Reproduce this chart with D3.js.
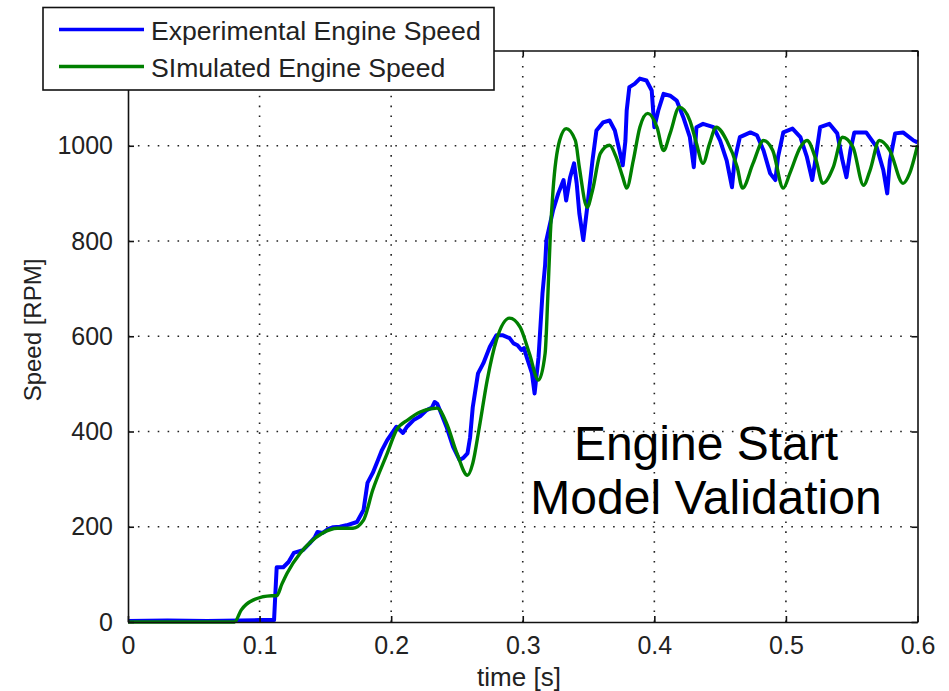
<!DOCTYPE html>
<html>
<head>
<meta charset="utf-8">
<script src="https://cdn.jsdelivr.net/npm/d3@7"></script>
<style>
  html, body { margin: 0; padding: 0; background: #fff; }
  svg { display: block; font-family: Arial, "Liberation Sans", sans-serif; }
</style>
</head>
<body>
<svg id="chart" width="949" height="691"></svg>
<script>
// Measured engine speed during cranking/start (time [s], speed [RPM])
const expTime = [0, 0.03, 0.06, 0.085, 0.1, 0.111, 0.112, 0.113, 0.118, 0.122, 0.126, 0.133, 0.138, 0.142, 0.144, 0.148, 0.152, 0.156, 0.161, 0.166, 0.174, 0.179, 0.182, 0.186, 0.19, 0.193, 0.197, 0.204, 0.209, 0.212, 0.217, 0.222, 0.227, 0.231, 0.233, 0.235, 0.237, 0.242, 0.247, 0.252, 0.255, 0.258, 0.26, 0.262, 0.266, 0.27, 0.275, 0.28, 0.285, 0.29, 0.293, 0.296, 0.299, 0.301, 0.303, 0.307, 0.309, 0.312, 0.315, 0.317, 0.318, 0.323, 0.327, 0.331, 0.333, 0.336, 0.339, 0.341, 0.343, 0.346, 0.349, 0.353, 0.356, 0.361, 0.366, 0.37, 0.374, 0.376, 0.378, 0.379, 0.381, 0.385, 0.389, 0.394, 0.398, 0.4, 0.403, 0.407, 0.412, 0.417, 0.422, 0.427, 0.43, 0.432, 0.437, 0.445, 0.45, 0.455, 0.459, 0.461, 0.465, 0.473, 0.478, 0.483, 0.488, 0.492, 0.494, 0.498, 0.505, 0.511, 0.516, 0.52, 0.522, 0.526, 0.533, 0.539, 0.543, 0.546, 0.549, 0.552, 0.561, 0.569, 0.574, 0.577, 0.579, 0.583, 0.589, 0.597, 0.6];
const expSpeed = [2, 3, 2, 3, 4, 4, 60, 115, 115, 126, 145, 151, 165, 178, 189, 187, 195, 199, 200, 203, 210, 235, 292, 313, 340, 361, 382, 410, 397, 410, 424, 432, 445, 450, 462, 458, 445, 410, 368, 340, 345, 354, 388, 451, 522, 543, 578, 602, 602, 596, 585, 581, 571, 575, 556, 522, 480, 556, 690, 750, 802, 864, 900, 928, 885, 934, 963, 921, 858, 802, 871, 969, 1032, 1049, 1053, 1032, 984, 959, 1010, 1074, 1123, 1130, 1141, 1137, 1116, 1039, 1074, 1109, 1105, 1095, 1060, 1018, 955, 1039, 1046, 1039, 1011, 969, 913, 969, 1018, 1028, 1022, 990, 942, 928, 976, 1028, 1036, 1018, 976, 928, 963, 1039, 1046, 1026, 969, 934, 990, 1028, 1028, 997, 949, 900, 969, 1026, 1028, 1011, 1007];

// Simulated engine speed from the start model
const simTime = [0, 0.081, 0.086, 0.095, 0.109, 0.113, 0.117, 0.121, 0.131, 0.138, 0.148, 0.159, 0.171, 0.179, 0.186, 0.197, 0.204, 0.213, 0.222, 0.235, 0.242, 0.25, 0.258, 0.262, 0.267, 0.273, 0.28, 0.29, 0.298, 0.305, 0.312, 0.317, 0.319, 0.321, 0.323, 0.328, 0.333, 0.34, 0.343, 0.349, 0.353, 0.359, 0.366, 0.371, 0.376, 0.379, 0.384, 0.389, 0.395, 0.402, 0.407, 0.412, 0.419, 0.427, 0.432, 0.437, 0.442, 0.447, 0.455, 0.463, 0.467, 0.475, 0.483, 0.49, 0.498, 0.503, 0.511, 0.516, 0.523, 0.528, 0.536, 0.543, 0.551, 0.559, 0.564, 0.571, 0.579, 0.589, 0.594, 0.6];
const simSpeed = [0, 0, 25, 46, 55, 55, 80, 103, 145, 166, 187, 197, 197, 214, 277, 354, 403, 425, 441, 449, 418, 354, 308, 333, 409, 508, 592, 638, 619, 564, 508, 564, 680, 816, 906, 1011, 1036, 1011, 955, 871, 906, 984, 1001, 976, 934, 911, 969, 1039, 1068, 1039, 990, 1026, 1081, 1053, 1005, 963, 1005, 1039, 1011, 955, 911, 963, 1011, 990, 911, 942, 997, 1011, 969, 921, 955, 1018, 997, 917, 949, 1011, 990, 921, 942, 1001];

// Axis ticks
const xTicks = [0, 0.1, 0.2, 0.3, 0.4, 0.5, 0.6];
const xTickLabels = ["0", "0.1", "0.2", "0.3", "0.4", "0.5", "0.6"];
const yTicks = [0, 200, 400, 600, 800, 1000, 1200];
const yTickLabels = ["0", "200", "400", "600", "800", "1000", "1200"];

const seriesNames = ["Experimental Engine Speed", "SImulated Engine Speed"];
const seriesColors = ["#0000ff", "#008000"];

const svg = d3.select("#chart");
const plot = { left: 128, right: 917.5, top: 50.5, bottom: 622 };

const x = d3.scaleLinear().domain([0, 0.6]).range([plot.left, plot.right]);
const y = d3.scaleLinear().domain([0, 1200]).range([plot.bottom, plot.top]);

// dotted grid
const grid = svg.append("g").attr("stroke", "#222").attr("stroke-width", 1.6)
  .attr("stroke-dasharray", "1.6,8.3");
grid.selectAll("line.gx").data(xTicks.slice(1, -1)).join("line")
  .attr("x1", d => x(d)).attr("x2", d => x(d))
  .attr("y1", plot.bottom).attr("y2", plot.top);
grid.selectAll("line.gy").data(yTicks.slice(1, -1)).join("line")
  .attr("y1", d => y(d)).attr("y2", d => y(d))
  .attr("x1", plot.left).attr("x2", plot.right);

// data lines
const pts = (ts, vs) => ts.map((t, i) => [t, vs[i]]);
const lineLinear = d3.line().x(d => x(d[0])).y(d => y(d[1]));
const lineSmooth = d3.line().x(d => x(d[0])).y(d => y(d[1])).curve(d3.curveMonotoneX);

svg.append("path").datum(pts(expTime, expSpeed))
  .attr("d", lineLinear).attr("fill", "none")
  .attr("stroke", seriesColors[0]).attr("stroke-width", 4)
  .attr("stroke-linejoin", "round");
svg.append("path").datum(pts(simTime, simSpeed))
  .attr("d", lineSmooth).attr("fill", "none")
  .attr("stroke", seriesColors[1]).attr("stroke-width", 3.4)
  .attr("stroke-linejoin", "round");

// axes frame with inward ticks on all four sides
const tickLen = 6;
const axisBottom = d3.axisBottom(x).tickValues(xTicks).tickSizeInner(-tickLen).tickSizeOuter(0)
  .tickFormat((d, i) => xTickLabels[i]).tickPadding(14);
const axisLeft = d3.axisLeft(y).tickValues(yTicks).tickSizeInner(-tickLen).tickSizeOuter(0)
  .tickFormat((d, i) => yTickLabels[i]).tickPadding(15);
const axisTop = d3.axisTop(x).tickValues(xTicks).tickSizeInner(-tickLen).tickSizeOuter(0).tickFormat("");
const axisRight = d3.axisRight(y).tickValues(yTicks).tickSizeInner(-tickLen).tickSizeOuter(0).tickFormat("");

function styleAxis(g) {
  g.select(".domain").attr("stroke", "#111").attr("stroke-width", 1.6);
  g.selectAll(".tick line").attr("stroke", "#111").attr("stroke-width", 1.6);
  g.selectAll(".tick text").attr("fill", "#222").attr("font-size", 25)
    .attr("font-family", "Arial, 'Liberation Sans', sans-serif");
}
svg.append("g").attr("transform", `translate(0,${plot.bottom})`).call(axisBottom).call(styleAxis);
svg.append("g").attr("transform", `translate(${plot.left},0)`).call(axisLeft).call(styleAxis);
svg.append("g").attr("transform", `translate(0,${plot.top})`).call(axisTop).call(styleAxis);
svg.append("g").attr("transform", `translate(${plot.right},0)`).call(axisRight).call(styleAxis);

// axis titles
svg.append("text").attr("x", 519).attr("y", 686).attr("text-anchor", "middle")
  .attr("font-size", 26).attr("fill", "#222").text("time [s]");
svg.append("text").attr("transform", "translate(41,330) rotate(-90)")
  .attr("text-anchor", "middle").attr("font-size", 24).attr("fill", "#222").text("Speed [RPM]");

// annotation
const note = svg.append("g").attr("font-size", 48).attr("fill", "#000").attr("text-anchor", "middle");
note.append("text").attr("x", 706).attr("y", 460).text("Engine Start");
note.append("text").attr("x", 706).attr("y", 514).text("Model Validation");

// legend
const legend = svg.append("g");
legend.append("rect").attr("x", 43).attr("y", 7.5).attr("width", 451).attr("height", 82.5)
  .attr("fill", "#fff").attr("stroke", "#111").attr("stroke-width", 1.6);
const legendRows = [29.5, 66.5];
seriesNames.forEach((name, i) => {
  legend.append("line").attr("x1", 59).attr("x2", 144)
    .attr("y1", legendRows[i]).attr("y2", legendRows[i])
    .attr("stroke", seriesColors[i]).attr("stroke-width", 3.4);
  legend.append("text").attr("x", 151).attr("y", legendRows[i] + 10)
    .attr("font-size", 26.6).attr("fill", "#222").text(name);
});
</script>
</body>
</html>
